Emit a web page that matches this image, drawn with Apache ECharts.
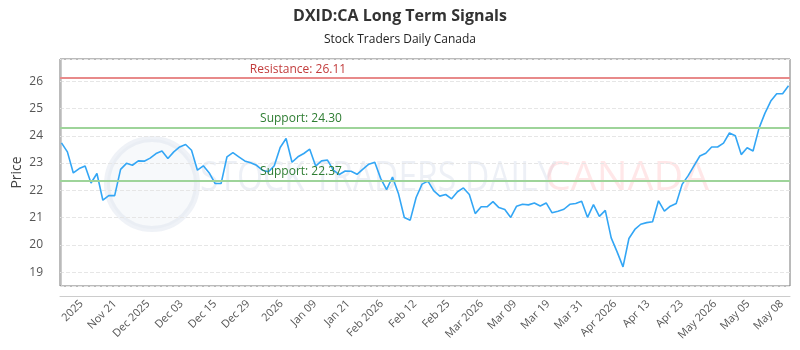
<!DOCTYPE html>
<html>
<head>
<meta charset="utf-8">
<script src="https://cdn.jsdelivr.net/npm/echarts@6/dist/echarts.min.js"></script>
<style>
  html, body { margin: 0; padding: 0; background: #fff; }
  #chart { width: 800px; height: 350px; }
</style>
</head>
<body>
<div id="chart"></div>
<script>
// price series, one point per trading day
var prices = [
  23.74, 23.41, 22.64, 22.80, 22.89, 22.27, 22.62, 21.64, 21.81, 21.81,
  22.77, 22.99, 22.92, 23.08, 23.07, 23.18, 23.35, 23.44, 23.17, 23.41,
  23.59, 23.68, 23.47, 22.74, 22.90, 22.64, 22.25, 22.25, 23.23, 23.38,
  23.23, 23.08, 23.01, 22.92, 22.74, 22.68, 22.90, 23.57, 23.90, 23.03,
  23.23, 23.35, 23.51, 22.89, 23.08, 23.11, 22.74, 22.58, 22.71, 22.70,
  22.59, 22.78, 22.96, 23.03, 22.44, 22.03, 22.49, 21.89, 21.01, 20.91,
  21.74, 22.23, 22.34, 21.98, 21.79, 21.85, 21.69, 21.95, 22.09, 21.85,
  21.15, 21.40, 21.40, 21.59, 21.37, 21.30, 21.01, 21.42, 21.49, 21.47,
  21.54, 21.43, 21.54, 21.18, 21.24, 21.31, 21.49, 21.52, 21.60, 21.01,
  21.48, 21.05, 21.27, 20.26, 19.75, 19.20, 20.24, 20.57, 20.76, 20.82,
  20.85, 21.62, 21.24, 21.42, 21.52, 22.22, 22.53, 22.90, 23.26, 23.36,
  23.59, 23.59, 23.73, 24.10, 24.00, 23.31, 23.56, 23.44, 24.27, 24.82,
  25.27, 25.54, 25.54, 25.83
];

// x axis labels
var dateLabels = ['2025', 'Nov 21', 'Dec 2025', 'Dec 03', 'Dec 15', 'Dec 29', '2026',
  'Jan 09', 'Jan 21', 'Feb 2026', 'Feb 12', 'Feb 25', 'Mar 2026', 'Mar 09', 'Mar 19',
  'Mar 31', 'Apr 2026', 'Apr 13', 'Apr 23', 'May 2026', 'May 05', 'May 08'];

// signal levels
var resistance = 26.11;
var supports = [24.30, 22.37];

var labelStart = 3.4;
var labelStep = 5.64;
var labelAt = dateLabels.map(function (d, i) { return labelStart + i * labelStep; });

var lineData = prices.map(function (v, i) { return [i, v]; });

var chart = echarts.init(document.getElementById('chart'));

var markData = [
  {
    yAxis: resistance,
    lineStyle: { color: '#e88a8a', width: 2, type: 'solid' },
    label: { formatter: 'Resistance: ' + resistance.toFixed(2), color: '#c23b3b' }
  }
];
supports.forEach(function (s) {
  markData.push({
    yAxis: s,
    lineStyle: { color: '#9ed49a', width: 2, type: 'solid' },
    label: { formatter: 'Support: ' + s.toFixed(2), color: '#2e7d32', distance: [241, 3] }
  });
});

var option = {
  backgroundColor: '#fff',
  textStyle: { fontFamily: 'Open Sans' },
  title: {
    text: 'DXID:CA Long Term Signals',
    subtext: 'Stock Traders Daily Canada',
    left: 'center',
    top: 3,
    itemGap: 10,
    textStyle: { fontSize: 16, fontWeight: 'bold', color: '#333', fontFamily: 'Open Sans' },
    subtextStyle: { fontSize: 12, color: '#222', fontFamily: 'Open Sans' }
  },
  graphic: [
    {
      type: 'circle', z: -1, left: 104, top: 136,
      shape: { r: 45 },
      style: { fill: 'rgba(230,234,242,0.3)', stroke: 'rgba(215,222,235,0.4)', lineWidth: 6 }
    },
    {
      type: 'text', z: -1, x: 200, y: 158, scaleX: 0.8,
      style: { text: 'STOCK TRADERS DAILY', font: '42px "Open Sans"', fill: 'rgba(210,218,232,0.4)' }
    },
    {
      type: 'text', z: -1, x: 545, y: 158,
      style: { text: 'CANADA', font: '41px "Open Sans"', fill: 'rgba(255,185,190,0.35)' }
    }
  ],
  grid: {
    left: 60, right: 10, top: 59, bottom: 64,
    outerBoundsMode: 'none',
    containLabel: false,
    show: true, borderColor: '#777', borderWidth: 1, backgroundColor: 'transparent'
  },
  xAxis: {
    type: 'value',
    min: -0.25,
    max: 123.25,
    offset: 10,
    axisLine: { show: true, lineStyle: { color: '#ccc' } },
    axisTick: { show: false },
    splitLine: { show: false },
    axisLabel: {
      customValues: labelAt,
      rotate: 45,
      margin: 6,
      fontSize: 11,
      color: '#555',
      hideOverlap: false,
      formatter: function (v) {
        var k = Math.round((v - labelStart) / labelStep);
        return dateLabels[k] || '';
      }
    }
  },
  yAxis: {
    type: 'value',
    min: 18.5,
    max: 26.81,
    splitNumber: 8,
    offset: 10,
    name: 'Price',
    nameLocation: 'middle',
    nameGap: 26,
    nameMoveOverlap: false,
    nameTextStyle: { fontSize: 14, color: '#444' },
    axisLine: { show: true, lineStyle: { color: '#ccc' } },
    axisTick: { show: false },
    axisLabel: { fontSize: 12, color: '#555', margin: 7, showMinLabel: false, showMaxLabel: false },
    splitLine: { show: true, lineStyle: { color: '#e6e6e6', type: 'dashed' } }
  },
  series: [
    {
      type: 'line',
      data: lineData,
      showSymbol: false,
      symbol: 'none',
      lineStyle: { color: '#33a6f5', width: 1.6 },
      itemStyle: { color: '#33a6f5' },
      markLine: {
        silent: true,
        symbol: 'none',
        label: {
          position: 'insideStartTop',
          align: 'center',
          distance: [238, 3],
          fontSize: 12
        },
        data: markData
      }
    }
  ]
};
chart.setOption(option);
</script>
</body>
</html>
